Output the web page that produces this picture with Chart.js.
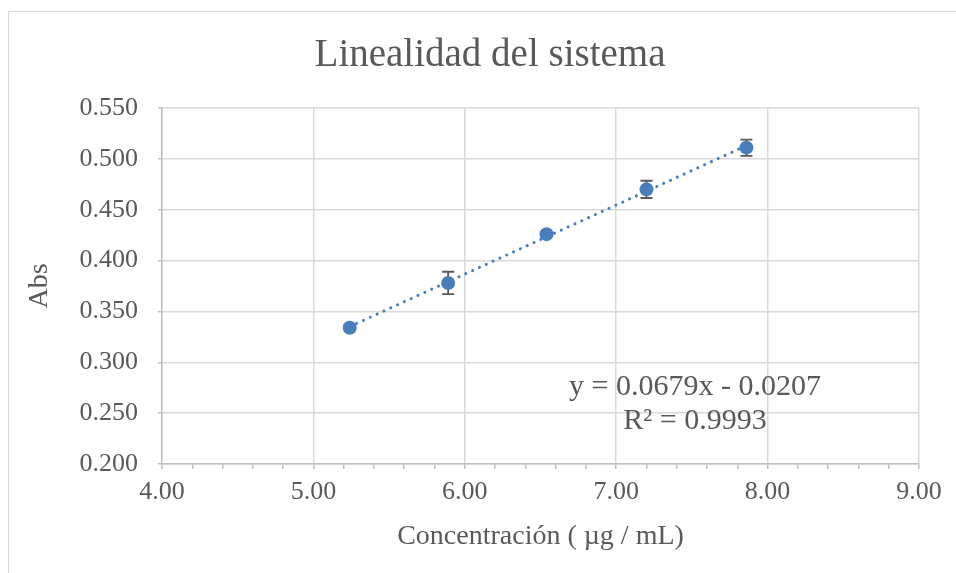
<!DOCTYPE html>
<html>
<head>
<meta charset="utf-8">
<script src="https://cdn.jsdelivr.net/npm/chart.js@4"></script>
<style>
  html, body { margin: 0; padding: 0; background: #ffffff; overflow: hidden; width: 956px; height: 573px; }
  #frame { position: absolute; left: 8px; top: 11px; width: 1100px; height: 700px; border: 1.5px solid #d9d9d9; background: #fff; }
  #wrap { position: absolute; left: 0; top: 0; width: 980px; height: 573px; }
</style>
</head>
<body>
<div id="frame"></div>
<div id="wrap"><canvas id="c" width="980" height="573"></canvas></div>
<script>
// ---- data ----
const concentrations = [5.24, 5.89, 6.54, 7.20, 7.86];
const absorbances    = [0.334, 0.378, 0.426, 0.470, 0.511];
const errorValues    = [0.003, 0.011, 0.002, 0.0085, 0.008];
const trendSlope = 0.0679;
const trendIntercept = -0.0207;
const equationText = 'y = 0.0679x - 0.0207';
const r2Text = 'R\u00B2 = 0.9993';
const chartTitle = 'Linealidad del sistema';
const xTitle = 'Concentraci\u00F3n ( \u00B5g / mL)';
const yTitle = 'Abs';
const xRange = [4, 9];
const yRange = [0.2, 0.55];
const labelAnchor = { x: 7.52, y: 0.2756 };

const FONT = "'Liberation Serif', 'Times New Roman', serif";
const TEXT = '#595959';
const BLUE = '#4a7ebb';

const points = concentrations.map((x, i) => ({ x: x, y: absorbances[i] }));
const xMin = Math.min(...concentrations), xMax = Math.max(...concentrations);
const trend = [xMin, xMax].map(x => ({ x: x, y: trendSlope * x + trendIntercept }));

const isMajor = v => Math.abs(v - Math.round(v)) < 1e-6;

const errorBars = {
  id: 'errorBars',
  beforeDatasetsDraw(chart) {
    const { ctx, scales: { x, y } } = chart;
    ctx.save();
    ctx.strokeStyle = '#595959';
    ctx.lineWidth = 1.8;
    concentrations.forEach((cx, i) => {
      const px = x.getPixelForValue(cx);
      const top = y.getPixelForValue(absorbances[i] + errorValues[i]);
      const bot = y.getPixelForValue(absorbances[i] - errorValues[i]);
      ctx.beginPath();
      ctx.moveTo(px, top); ctx.lineTo(px, bot);
      ctx.moveTo(px - 6, top); ctx.lineTo(px + 6, top);
      ctx.moveTo(px - 6, bot); ctx.lineTo(px + 6, bot);
      ctx.stroke();
    });
    ctx.restore();
  }
};

const textLayer = {
  id: 'textLayer',
  afterDatasetsDraw(chart) {
    const { ctx, scales: { x, y } } = chart;
    const px = x.getPixelForValue(labelAnchor.x);
    const py = y.getPixelForValue(labelAnchor.y);
    ctx.save();
    ctx.fillStyle = TEXT;
    ctx.textAlign = 'center';
    ctx.textBaseline = 'middle';
    ctx.font = "30px " + FONT;
    ctx.fillText(equationText, px, py);
    ctx.fillText(r2Text, px, py + 34);
    ctx.font = "39px " + FONT;
    ctx.fillText(chartTitle, chart.width / 2, 56);
    ctx.restore();
  }
};

new Chart(document.getElementById('c'), {
  type: 'scatter',
  data: {
    datasets: [
      {
        label: 'Abs',
        data: points,
        backgroundColor: BLUE,
        borderColor: BLUE,
        pointRadius: 7,
        pointBorderWidth: 0,
        pointHoverRadius: 7,
        order: 1
      },
      {
        label: 'Lineal',
        data: trend,
        showLine: true,
        borderColor: BLUE,
        borderWidth: 3,
        borderDash: [0.1, 7.4],
        borderCapStyle: 'round',
        pointRadius: 0,
        fill: false,
        order: 2
      }
    ]
  },
  options: {
    responsive: false,
    animation: false,
    events: [],
    layout: { padding: { left: 0, right: 61, top: 108, bottom: 0 } },
    plugins: {
      legend: { display: false },
      tooltip: { enabled: false },
      title: { display: false }
    },
    scales: {
      x: {
        type: 'linear',
        min: xRange[0], max: xRange[1],
        afterFit(s) { s.height = 109; },
        ticks: {
          stepSize: 0.2,
          autoSkip: false,
          maxRotation: 0,
          color: TEXT,
          padding: 8,
          font: { family: FONT, size: 26 },
          callback: v => isMajor(v) ? v.toFixed(2) : ''
        },
        grid: {
          color: c => (c.tick && isMajor(c.tick.value)) ? '#d9d9d9' : 'rgba(0,0,0,0)',
          tickColor: '#bfbfbf',
          tickLength: 5,
          lineWidth: 1.5,
          drawTicks: true
        },
        border: { color: '#bfbfbf', width: 1.5 },
        title: {
          display: true,
          text: xTitle,
          color: TEXT,
          font: { family: FONT, size: 28, lineHeight: 1.2 },
          padding: { top: 0, bottom: 20 }
        }
      },
      y: {
        type: 'linear',
        min: yRange[0], max: yRange[1],
        afterFit(s) { s.width = 162; },
        ticks: {
          stepSize: 0.05,
          color: TEXT,
          padding: 20,
          font: { family: FONT, size: 26 },
          callback: v => v.toFixed(3)
        },
        grid: {
          color: '#d9d9d9',
          tickColor: '#bfbfbf',
          tickLength: 4,
          lineWidth: 1.5
        },
        border: { color: '#bfbfbf', width: 1.5 },
        title: {
          display: true,
          text: yTitle,
          color: TEXT,
          font: { family: FONT, size: 28, lineHeight: 1.2 },
          padding: { top: 23, bottom: 0 }
        }
      }
    }
  },
  plugins: [errorBars, textLayer]
});
</script>
</body>
</html>
